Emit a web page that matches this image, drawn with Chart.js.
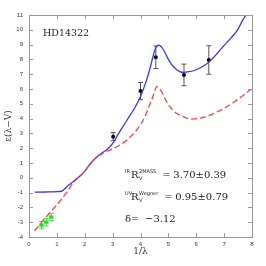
<!DOCTYPE html>
<html>
<head>
<meta charset="utf-8">
<script src="https://cdn.jsdelivr.net/npm/chart.js@4.4.1/dist/chart.umd.min.js"></script>
<style>
  html, body { margin: 0; padding: 0; background: #fff; }
  #wrap { width: 266px; height: 266px; }
</style>
</head>
<body>
<div id="wrap"><canvas id="chart" width="266" height="266"></canvas></div>
<script>
// fitted extinction curve (solid blue)
const blueX = [0.2, 0.6, 1.0, 1.17, 1.3, 1.45, 1.6, 1.7, 1.85, 2.0, 2.2, 2.4, 2.6, 2.75, 2.9, 3.05, 3.2, 3.4, 3.6, 3.8, 4.0, 4.2, 4.35, 4.45, 4.55, 4.63, 4.72, 4.8, 4.9, 5.0, 5.1, 5.25, 5.4, 5.55, 5.7, 6.0, 6.3, 6.5, 6.75, 7.0, 7.25, 7.5, 7.65, 7.82];
const blueY = [-0.97, -0.96, -0.94, -0.9, -0.7, -0.45, -0.25, -0.1, 0.15, 0.45, 0.95, 1.35, 1.65, 1.85, 2.1, 2.45, 2.95, 3.55, 4.15, 4.75, 5.5, 6.5, 7.45, 8.2, 8.8, 8.97, 8.9, 8.72, 8.38, 8.0, 7.7, 7.38, 7.18, 7.12, 7.15, 7.3, 7.6, 7.9, 8.4, 8.95, 9.45, 10.05, 10.6, 11.1];
// mean galactic curve (dashed red)
const redX = [0.2, 0.5, 0.8, 1.1, 1.4, 1.66, 1.85, 2.0, 2.2, 2.4, 2.6, 2.8, 3.0, 3.2, 3.44, 3.65, 3.86, 4.0, 4.16, 4.3, 4.4, 4.5, 4.58, 4.65, 4.75, 4.85, 5.0, 5.2, 5.4, 5.6, 5.83, 6.1, 6.49, 6.8, 7.09, 7.35, 7.62, 7.98];
const redY = [-3.58, -2.9, -2.25, -1.6, -0.85, -0.12, 0.15, 0.45, 0.95, 1.35, 1.6, 1.8, 1.95, 2.15, 2.44, 2.8, 3.23, 3.6, 4.13, 4.8, 5.26, 5.8, 6.16, 6.1, 5.85, 5.45, 4.95, 4.5, 4.25, 4.07, 3.97, 4.02, 4.24, 4.5, 4.8, 5.12, 5.48, 6.0];
// UV / optical photometry
const obsX = [3.02, 4.0, 4.55, 5.56, 6.45];
const obsY = [2.78, 5.86, 8.14, 6.95, 7.96];
const obsErr = [0.27, 0.58, 0.76, 0.73, 0.96];
// IR photometry
const irX = [0.45, 0.62, 0.8];
const irY = [-3.2, -3.0, -2.65];
const irErrX = [0.06, 0.06, 0.06];
const irErrY = [0.25, 0.25, 0.25];
// axis ticks
const xTicks = [0, 1, 2, 3, 4, 5, 6, 7, 8];
const yTicks = [-4, -3, -2, -1, 0, 1, 2, 3, 4, 5, 6, 7, 8, 9, 10, 11];

const toPts = (xs, ys) => xs.map((v, i) => ({x: v, y: ys[i]}));

const frame = {
  id: 'frame',
  beforeDatasetsDraw(chart) {
    const {ctx, scales: {x, y}} = chart;
    ctx.save();
    ctx.lineWidth = 1;
    // error bars for the photometry
    const bars = (xs, ys, ex, ey, color) => {
      ctx.strokeStyle = color;
      ctx.beginPath();
      xs.forEach((v, i) => {
        const px = x.getPixelForValue(v);
        const y0 = y.getPixelForValue(ys[i] - ey[i]);
        const y1 = y.getPixelForValue(ys[i] + ey[i]);
        ctx.moveTo(px, y0); ctx.lineTo(px, y1);
        ctx.moveTo(px - 2.5, y0); ctx.lineTo(px + 2.5, y0);
        ctx.moveTo(px - 2.5, y1); ctx.lineTo(px + 2.5, y1);
        if (ex) {
          const py = y.getPixelForValue(ys[i]);
          const x0 = x.getPixelForValue(v - ex[i]);
          const x1 = x.getPixelForValue(v + ex[i]);
          ctx.moveTo(x0, py); ctx.lineTo(x1, py);
          ctx.moveTo(x0, py - 2); ctx.lineTo(x0, py + 2);
          ctx.moveTo(x1, py - 2); ctx.lineTo(x1, py + 2);
        }
      });
      ctx.stroke();
    };
    bars(obsX, obsY, null, obsErr, '#555');
    bars(irX, irY, irErrX, irErrY, '#33ee33');
    ctx.restore();
  },
  afterDraw(chart) {
    const {ctx, chartArea: a, scales: {x, y}} = chart;
    ctx.save();
    ctx.strokeStyle = '#999';
    ctx.lineWidth = 1;
    ctx.strokeRect(a.left + 0.5, a.top + 0.5, a.right - a.left, a.bottom - a.top);
    ctx.beginPath();
    xTicks.forEach(v => {
      const px = Math.round(x.getPixelForValue(v)) + 0.5;
      ctx.moveTo(px, a.bottom); ctx.lineTo(px, a.bottom - 4);
      ctx.moveTo(px, a.top); ctx.lineTo(px, a.top + 4);
    });
    yTicks.forEach(v => {
      const py = Math.round(y.getPixelForValue(v)) + 0.5;
      ctx.moveTo(a.left, py); ctx.lineTo(a.left + 4, py);
      ctx.moveTo(a.right, py); ctx.lineTo(a.right - 4, py);
    });
    ctx.stroke();

    // labels
    ctx.fillStyle = '#222';
    ctx.textBaseline = 'middle';
    const big = '10px "DejaVu Serif"';
    const small = '5px "DejaVu Sans"';
    ctx.font = '9.5px "DejaVu Serif"';
    ctx.fillText('HD14322', 43, 34);

    const rline = (x0, cy, pre, sup, value) => {
      ctx.font = small;
      ctx.fillText(pre, x0, cy - 3);
      ctx.font = big;
      ctx.fillText('R', x0 + 6, cy);
      ctx.font = small;
      ctx.fillText(sup, x0 + 14, cy - 3);
      ctx.fillText('V', x0 + 14, cy + 4);
      const w = ctx.measureText(sup).width;
      ctx.font = big;
      ctx.fillText('=', x0 + 14 + w + 6, cy);
      ctx.fillText(value, x0 + 14 + w + 17, cy);
    };
    rline(125, 175, 'IR', '2MASS', '3.70\u00b10.39');
    rline(125, 197, 'UV', 'Wegner', '0.95\u00b10.79');
    ctx.font = big;
    ctx.fillText('\u03b4=', 125, 219);
    ctx.fillText('\u22123.12', 145, 219);
    ctx.restore();
  }
};

new Chart(document.getElementById('chart'), {
  type: 'scatter',
  data: {
    datasets: [
      {
        data: toPts(redX, redY),
        showLine: true,
        borderColor: '#ff4040',
        borderWidth: 1.3,
        borderDash: [6, 3],
        pointRadius: 0,
        cubicInterpolationMode: 'monotone'
      },
      {
        data: toPts(blueX, blueY),
        showLine: true,
        borderColor: '#3535ff',
        borderWidth: 1.3,
        pointRadius: 0,
        cubicInterpolationMode: 'monotone'
      },
      {
        data: toPts(obsX, obsY),
        pointRadius: 2,
        pointBackgroundColor: '#000',
        pointBorderColor: '#000',
        pointBorderWidth: 0
      },
      {
        data: toPts(irX, irY),
        pointRadius: 1.8,
        pointBackgroundColor: '#22dd22',
        pointBorderColor: '#22dd22',
        pointBorderWidth: 0
      }
    ]
  },
  options: {
    responsive: false,
    animation: false,
    devicePixelRatio: 1,
    layout: { padding: { top: 15, right: 14, left: 0, bottom: 0 } },
    plugins: { legend: { display: false }, tooltip: { enabled: false } },
    scales: {
      x: {
        type: 'linear',
        min: 0,
        max: 8,
        afterBuildTicks: s => { s.ticks = xTicks.map(v => ({value: v})); },
        afterFit: s => { s.height = 29; },
        grid: { display: false, drawTicks: false },
        border: { display: false },
        ticks: { font: { size: 6, family: 'Liberation Sans' }, color: '#333', padding: 4, maxRotation: 0 },
        title: { display: true, text: '1/\u03bb', font: { size: 9, family: 'DejaVu Serif' }, color: '#333', padding: { top: 0, bottom: 9 } }
      },
      y: {
        type: 'linear',
        min: -4,
        max: 11,
        afterBuildTicks: s => { s.ticks = yTicks.map(v => ({value: v})); },
        afterFit: s => { s.width = 29; },
        grid: { display: false, drawTicks: false },
        border: { display: false },
        ticks: { font: { size: 6, family: 'Liberation Sans' }, color: '#333', padding: 6 },
        title: { display: true, text: '\u03b5(\u03bb\u2212V)', font: { size: 9, family: 'DejaVu Serif' }, color: '#333', padding: { top: 3, bottom: 0 } }
      }
    }
  },
  plugins: [frame]
});
</script>
</body>
</html>
